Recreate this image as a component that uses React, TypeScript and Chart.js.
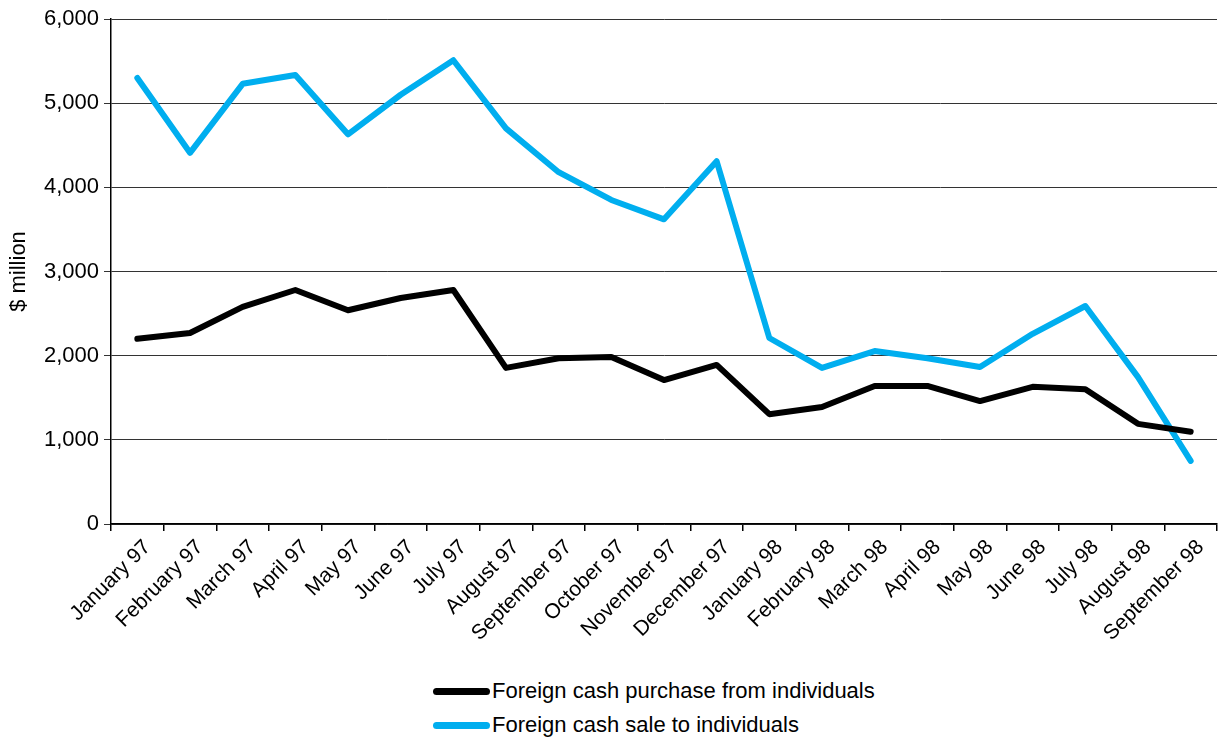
import React, { useEffect, useRef } from "react";
import { Chart, registerables } from "chart.js";

Chart.register(...registerables);

const categories = [
  "January 97", "February 97", "March 97", "April 97", "May 97", "June 97",
  "July 97", "August 97", "September 97", "October 97", "November 97", "December 97",
  "January 98", "February 98", "March 98", "April 98", "May 98", "June 98",
  "July 98", "August 98", "September 98",
];

const purchaseFromIndividuals = [
  2200, 2270, 2580, 2780, 2540, 2685, 2780, 1855, 1970, 1985, 1710, 1890,
  1305, 1390, 1640, 1640, 1460, 1630, 1600, 1190, 1095,
];

const saleToIndividuals = [
  5300, 4410, 5230, 5335, 4630, 5100, 5510, 4700, 4180, 3850, 3620, 4310,
  2210, 1855, 2055, 1970, 1865, 2260, 2590, 1745, 750,
];

const seriesNames = [
  "Foreign cash purchase from individuals",
  "Foreign cash sale to individuals",
];
const seriesColors = ["#000000", "#00AEEF"];

const FONT = "'Liberation Sans', Arial, Helvetica, sans-serif";

export default function App() {
  const ref = useRef<HTMLCanvasElement>(null);
  useEffect(() => {
    if (!ref.current) return;
    const chart = new Chart(ref.current, {
      type: "line",
      data: {
        labels: categories,
        datasets: [
          {
            label: seriesNames[0],
            data: purchaseFromIndividuals,
            borderColor: seriesColors[0],
            backgroundColor: seriesColors[0],
            borderWidth: 6,
            borderCapStyle: "round",
            borderJoinStyle: "round",
            pointRadius: 0,
            tension: 0,
          },
          {
            label: seriesNames[1],
            data: saleToIndividuals,
            borderColor: seriesColors[1],
            backgroundColor: seriesColors[1],
            borderWidth: 6,
            borderCapStyle: "round",
            borderJoinStyle: "round",
            pointRadius: 0,
            tension: 0,
          },
        ],
      },
      options: {
        animation: false,
        responsive: false,
        maintainAspectRatio: false,
        layout: { padding: { top: 19, right: 1, left: 0, bottom: 0 } },
        plugins: {
          legend: { display: false },
          tooltip: { enabled: false },
        },
        scales: {
          x: {
            type: "category",
            offset: true,
            afterFit: (s: any) => {
              s.height = 136;
            },
            border: { display: true, color: "#000", width: 1.5 },
            grid: {
              offset: true,
              drawOnChartArea: false,
              drawTicks: true,
              tickLength: 7,
              color: "#000",
              lineWidth: 1.5,
            },
            ticks: {
              minRotation: 45,
              maxRotation: 45,
              autoSkip: false,
              color: "#000",
              padding: 4,
              labelOffset: 10,
              font: { family: FONT, size: 21 },
            },
          },
          y: {
            min: 0,
            max: 6000,
            afterFit: (s: any) => {
              s.width = 111;
            },
            border: { display: true, color: "#000", width: 1.5 },
            grid: {
              color: "#333",
              lineWidth: 1,
              tickLength: 7,
            },
            ticks: {
              stepSize: 1000,
              color: "#000",
              padding: 5,
              font: { family: FONT, size: 22 },
              callback: (v: any) => Number(v).toLocaleString("en-US"),
            },
            title: {
              display: true,
              text: "$ million",
              color: "#000",
              font: { family: FONT, size: 22 },
              padding: { top: 6, bottom: 0 },
            },
          },
        },
      },
    });
    return () => chart.destroy();
  }, []);

  const legendRow = (i: number, top: number) => (
    <div
      key={i}
      style={{
        position: "absolute",
        left: 433,
        top,
        height: 26,
        display: "flex",
        alignItems: "center",
        fontFamily: FONT,
        fontSize: 22,
        lineHeight: "26px",
        color: "#000",
        whiteSpace: "nowrap",
      }}
    >
      <span
        style={{
          display: "inline-block",
          width: 57,
          height: 7,
          borderRadius: 3.5,
          background: seriesColors[i],
          marginRight: 2,
        }}
      />
      <span>{seriesNames[i]}</span>
    </div>
  );

  return (
    <div
      style={{
        position: "absolute",
        left: 0,
        top: 0,
        width: 1218,
        height: 742,
        background: "#fff",
      }}
    >
      <canvas ref={ref} width={1218} height={660} style={{ display: "block" }} />
      {legendRow(0, 678)}
      {legendRow(1, 712)}
    </div>
  );
}
